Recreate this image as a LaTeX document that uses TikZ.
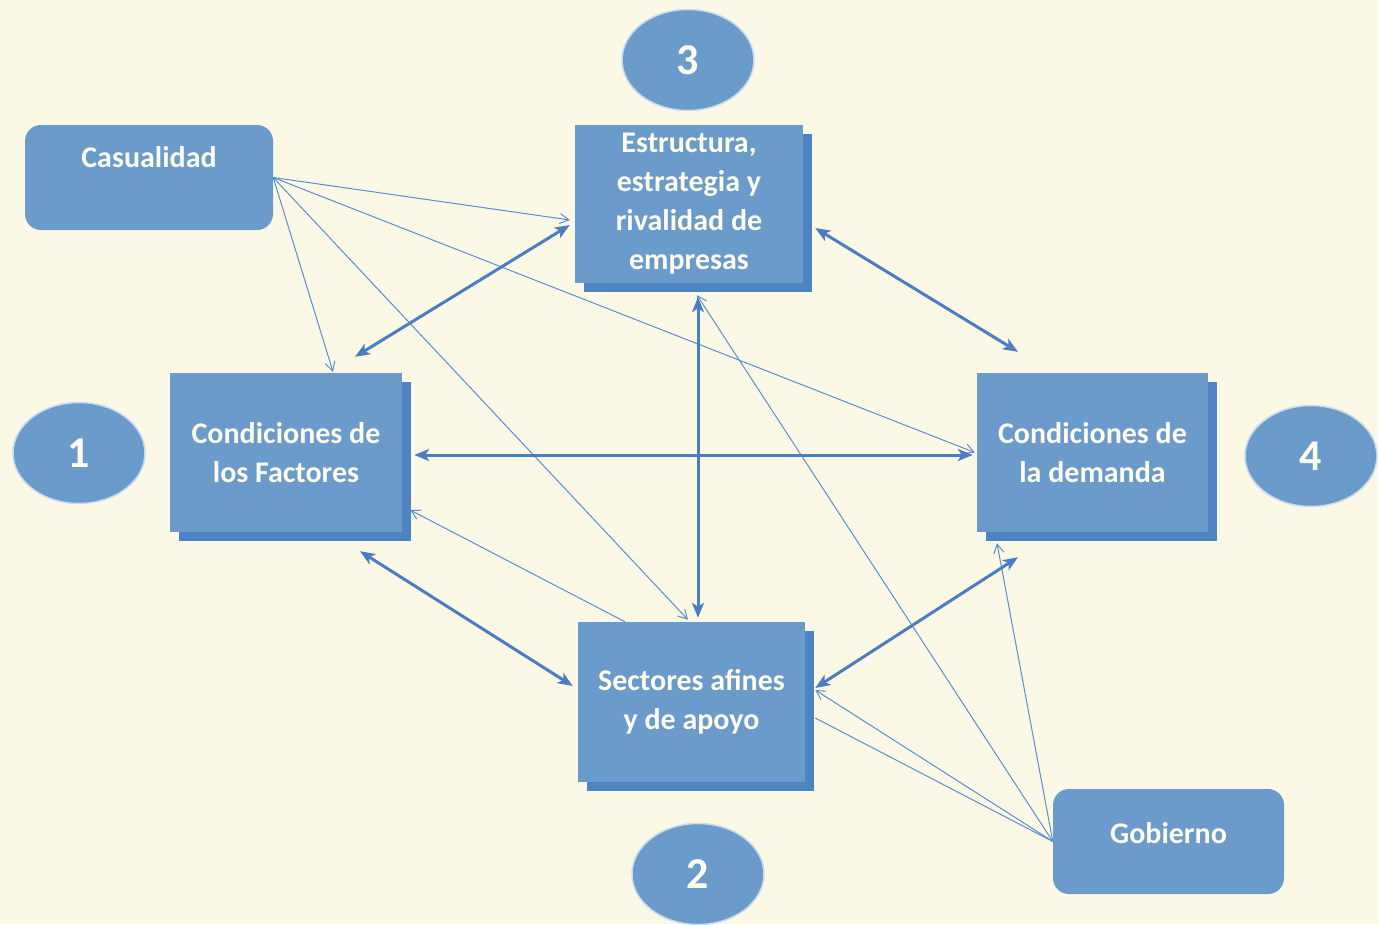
\documentclass[tikz,border=0pt]{standalone}
\usepackage{fontspec}
\setmainfont{Carlito}
\usetikzlibrary{arrows.meta,shadows,shapes.geometric}
\definecolor{bgcream}{HTML}{FCF8E6}
\definecolor{boxblue}{HTML}{6A9BCB}
\definecolor{shadowblue}{HTML}{4F84C4}
\definecolor{arrowblue}{HTML}{4A7EC2}
\definecolor{thinblue}{HTML}{5A8ED0}
\definecolor{txtcream}{HTML}{FFFCEE}
\definecolor{rimblue}{HTML}{C8DAEE}
\tikzset{
  sqbox/.style={rectangle, fill=boxblue, inner sep=0pt, align=center,
    text=txtcream, font=\bfseries\fontsize{30}{39}\selectfont,
    drop shadow={shadow xshift=9pt, shadow yshift=-9pt, fill=shadowblue, opacity=1}},
  rbox/.style={rectangle, rounded corners=16pt, fill=boxblue, inner sep=0pt,
    text=txtcream, font=\bfseries\fontsize{30}{39}\selectfont},
  numell/.style={ellipse, fill=boxblue, draw=rimblue, line width=1.5pt,
    minimum width=132pt, minimum height=101pt, inner sep=0pt,
    text=txtcream, font=\bfseries\fontsize{44}{50}\selectfont},
  thick link/.style={draw=arrowblue, line width=3pt,
    {Stealth[length=15pt,width=12pt,inset=4pt]}-{Stealth[length=15pt,width=12pt,inset=4pt]}},
  thin link/.style={draw=thinblue, line width=1pt, -{Straight Barb[length=9pt,width=10pt]}},
  thin line/.style={draw=thinblue, line width=1pt}
}
\begin{document}
\begin{tikzpicture}[x=1pt,y=-1pt]
\fill[bgcream] (0,0) rectangle (1378,924);
\useasboundingbox (0,0) rectangle (1378,924);

% number ellipses
\node[numell] (n3) at (688,60) {3};
\node[numell] (n1) at (79,453) {1};
\node[numell] (n4) at (1311,456) {4};
\node[numell] (n2) at (698,874) {2};

% main boxes
\node[sqbox, minimum width=228pt, minimum height=158pt] (est) at (689,204)
  {Estructura,\\estrategia y\\rivalidad de\\empresas};
\node[sqbox, minimum width=232pt, minimum height=159pt] (fac) at (286,452.5)
  {Condiciones de\\los Factores};
\node[sqbox, minimum width=231pt, minimum height=159pt] (dem) at (1092.5,452.5)
  {Condiciones de\\la demanda};
\node[sqbox, minimum width=227pt, minimum height=160pt] (sec) at (691.5,702)
  {Sectores afines\\y de apoyo};

% external factors
\node[rbox, minimum width=248pt, minimum height=105pt] (cas) at (149,177.5)
  {\raisebox{20pt}[\height][\depth]{Casualidad}};
\node[rbox, minimum width=231pt, minimum height=105pt] (gob) at (1168.5,841.5)
  {\raisebox{8.5pt}[\height][\depth]{Gobierno}};

% thin links from Casualidad
\draw[thin link] (cas.east) -- ([xshift=-5pt,yshift=-16pt]est.west);
\draw[thin link] (cas.east) -- ([xshift=47pt,yshift=1pt]fac.north);
\draw[thin link] (cas.east) -- ([xshift=-3.5pt,yshift=2pt]sec.north);
\draw[thin link] (cas.east) -- ([xshift=-2pt]dem.west);
% Sectores to Factores
\draw[thin link] ([xshift=-66.5pt]sec.north) -- ([xshift=8pt,yshift=-57.5pt]fac.east);
% thin links from Gobierno
\draw[thin link] (gob.west) -- ([xshift=10pt,yshift=12pt]sec.east);
\draw[thin line] (gob.west) -- ([xshift=10pt,yshift=-16pt]sec.east);
\draw[thin link] (gob.west) -- ([xshift=8pt,yshift=-12pt]est.south);
\draw[thin link] (gob.west) -- ([xshift=-95.5pt,yshift=-11pt]dem.south);

% thick double arrows
\draw[thick link] ([xshift=69pt,yshift=16pt]fac.north) -- ([xshift=-5pt,yshift=-21pt]est.west);
\draw[thick link] ([xshift=12pt,yshift=-24pt]est.east) -- ([xshift=-74.5pt,yshift=21pt]dem.north);
\draw[thick link] ([xshift=12pt,yshift=-2.5pt]fac.east) -- ([xshift=-4pt,yshift=-2.5pt]dem.west);
\draw[thick link] ([xshift=9pt,yshift=-14pt]est.south) -- ([xshift=6.5pt,yshift=4pt]sec.north);
\draw[thick link] ([xshift=74pt,yshift=-19pt]fac.south) -- ([xshift=-5pt,yshift=16pt]sec.west);
\draw[thick link] ([xshift=10pt,yshift=14pt]sec.east) -- ([xshift=-74.5pt,yshift=-25pt]dem.south);
\end{tikzpicture}
\end{document}
